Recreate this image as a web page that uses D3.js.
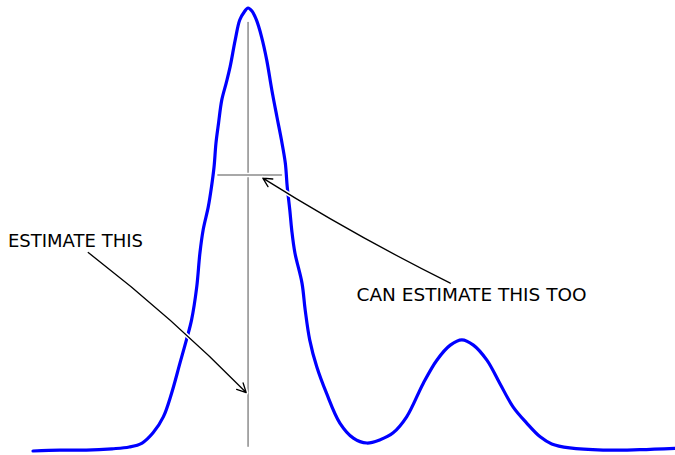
<!DOCTYPE html>
<html>
<head>
<meta charset="utf-8">
<script src="https://cdn.jsdelivr.net/npm/d3@7"></script>
<style>
  html, body { margin: 0; padding: 0; background: #fff; }
  svg { display: block; }
</style>
</head>
<body>
<svg id="chart" width="675" height="455"></svg>
<script>
// Sampled profile: a tall main peak followed by a smaller side peak
const curveX = [0.00, 0.42, 0.83, 1.23, 1.50, 1.70, 1.87, 2.03, 2.16, 2.29, 2.39, 2.47, 2.55, 2.60, 2.65,
  2.73, 2.78, 2.82, 2.85, 2.89, 2.94, 3.01, 3.07, 3.15, 3.22, 3.29, 3.35, 3.41, 3.48, 3.56, 3.64,
  3.72, 3.80, 3.87, 3.93, 3.96, 4.00, 4.03, 4.08, 4.19, 4.24, 4.31, 4.42, 4.57, 4.78, 4.99, 5.20,
  5.40, 5.61, 5.82, 6.08, 6.29, 6.50, 6.68, 6.86, 7.07, 7.27, 7.48, 7.69, 7.90, 8.08, 8.36, 8.88,
  9.45, 10.00];
const curveY = [0.000, 0.002, 0.002, 0.005, 0.009, 0.018, 0.041, 0.077, 0.131, 0.199, 0.251, 0.296, 0.370, 0.447, 0.499,
  0.551, 0.596, 0.641, 0.695, 0.740, 0.792, 0.831, 0.867, 0.928, 0.973, 0.991, 1.000, 0.993, 0.973, 0.935, 0.883,
  0.815, 0.754, 0.702, 0.650, 0.596, 0.544, 0.499, 0.447, 0.379, 0.318, 0.251, 0.190, 0.131, 0.063, 0.029, 0.018,
  0.025, 0.041, 0.077, 0.153, 0.205, 0.239, 0.251, 0.239, 0.205, 0.153, 0.099, 0.063, 0.032, 0.016, 0.007, 0.002,
  0.003, 0.006];

// Peak position and the width marker
const peakX = 3.35;
const peakLineY = [0.011, 0.967];
const widthLevel = 0.623;
const widthSpan = [2.88, 3.87];

// Annotations: label, label anchor, arrow start, arrow tip (data units)
const labels = ["ESTIMATE THIS", "CAN ESTIMATE THIS TOO"];
const labelPos = [[-0.39, 0.460], [5.04, 0.339]];
const arrowFrom = [[0.86, 0.448], [6.50, 0.379]];
const arrowTo = [[3.32, 0.132], [3.58, 0.616]];

const svg = d3.select("#chart");
const x = d3.scaleLinear().domain([0, 10]).range([33, 675]);
const y = d3.scaleLinear().domain([0, 1]).range([451, 8]);

const pts = curveX.map((d, i) => [d, curveY[i]]);
const line = d3.line()
  .x(d => x(d[0]))
  .y(d => y(d[1]))
  .curve(d3.curveCatmullRom.alpha(0.5));

// main curve
svg.append("path")
  .attr("d", line(pts))
  .attr("fill", "none")
  .attr("stroke", "#0000ff")
  .attr("stroke-width", 3.2)
  .attr("stroke-linejoin", "round")
  .attr("stroke-linecap", "round");

// helper: stroke with a white halo underneath
function haloPath(d, color, width) {
  svg.append("path").attr("d", d).attr("fill", "none")
    .attr("stroke", "#fff").attr("stroke-width", width + 3)
    .attr("stroke-linecap", "round").attr("stroke-linejoin", "round");
  svg.append("path").attr("d", d).attr("fill", "none")
    .attr("stroke", color).attr("stroke-width", width)
    .attr("stroke-linecap", "round").attr("stroke-linejoin", "round");
}

const straight = d3.line().x(d => x(d[0])).y(d => y(d[1]));

// vertical line through the peak
haloPath(straight([[peakX, peakLineY[0]], [peakX, peakLineY[1]]]), "#8c8c8c", 1.5);
// horizontal width marker
haloPath(straight([[widthSpan[0], widthLevel], [widthSpan[1], widthLevel]]), "#8c8c8c", 1.5);

// annotation arrows (gently bowed)
const bend = [0.035, 0.025];
labels.forEach((txt, i) => {
  const x0 = x(arrowFrom[i][0]), y0 = y(arrowFrom[i][1]);
  const x1 = x(arrowTo[i][0]), y1 = y(arrowTo[i][1]);
  const mx = (x0 + x1) / 2, my = (y0 + y1) / 2;
  const dx = x1 - x0, dy = y1 - y0;
  const cx = mx + bend[i] * dy, cy = my - bend[i] * dx;
  const p = d3.path();
  p.moveTo(x0, y0);
  p.quadraticCurveTo(cx, cy, x1, y1);
  // open arrow head
  const ang = Math.atan2(y1 - cy, x1 - cx);
  const hl = 10, ha = 0.47;
  p.moveTo(x1 - hl * Math.cos(ang - ha), y1 - hl * Math.sin(ang - ha));
  p.lineTo(x1, y1);
  p.lineTo(x1 - hl * Math.cos(ang + ha), y1 - hl * Math.sin(ang + ha));
  haloPath(p.toString(), "#000", 1.3);
});

// annotation labels
const labelWidth = [135, 230];
labels.forEach((txt, i) => {
  svg.append("text")
    .attr("x", x(labelPos[i][0]))
    .attr("y", y(labelPos[i][1]))
    .attr("font-family", "'DejaVu Sans', sans-serif")
    .attr("font-size", 17)
    .attr("fill", "#000")
    .attr("stroke", "#fff")
    .attr("stroke-width", 3)
    .attr("paint-order", "stroke")
    .attr("textLength", labelWidth[i])
    .attr("lengthAdjust", "spacingAndGlyphs")
    .text(txt);
});
</script>
</body>
</html>
